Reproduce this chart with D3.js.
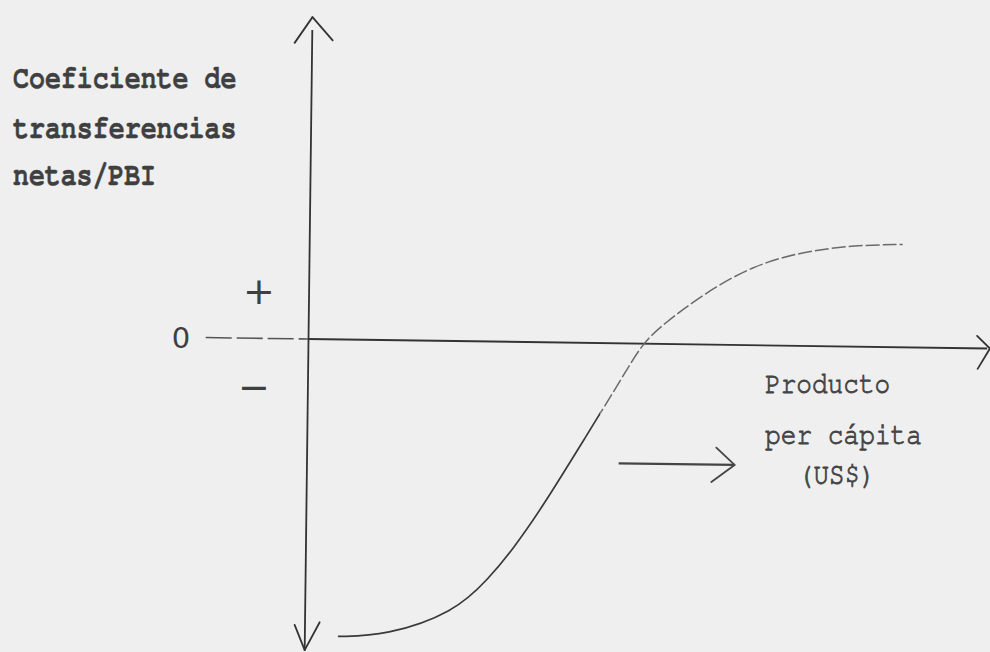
<!DOCTYPE html>
<html><head><meta charset="utf-8">
<script src="https://cdn.jsdelivr.net/npm/d3@7"></script>
<style>html,body{margin:0;padding:0;background:#efefef;overflow:hidden}</style>
</head><body>
<svg id="chart" width="990" height="652"></svg>
<script>
// ---- data (conceptual curve) ----
const curveX = [5, 12, 22, 27, 30.5, 34.7, 41, 46, 49, 52, 58, 65, 72.5, 80, 87];
const curveY = [-0.99, -0.985, -0.905, -0.79, -0.69, -0.55, -0.31, -0.12, 0, 0.065, 0.17, 0.265, 0.315, 0.338, 0.343];
const yLabelLines = ["Coeficiente de", "transferencias", "netas/PBI"];
const xLabelLines = ["Producto", "per cápita", "(US$)"];
const signLabels = ["+", "0", "−"];
const xDomain = [0, 100];
const yDomain = [-1, 1];
const arrowX = [45.8, 62.8];   // small "increasing income" arrow, data units
const arrowY = -0.40;

const W = 990, H = 652;
const svg = d3.select("#chart");
svg.append("rect").attr("width", W).attr("height", H).attr("fill", "#efefef");

const x = d3.scaleLinear().domain(xDomain).range([308, 990]);
const y = d3.scaleLinear().domain(yDomain).range([639, 39]);

const ink = "#333";
const typeFont = "'Nimbus Mono PS', 'FreeMono', 'TeX Gyre Cursor', 'Liberation Mono', monospace";
const g = svg.append("g").attr("transform", `rotate(0.8,${x(0)},${y(0)})`);

function head(tx, ty, arms, color, w) {
  arms.forEach(([dx, dy]) => {
    g.append("line").attr("x1", tx).attr("y1", ty).attr("x2", tx + dx).attr("y2", ty + dy)
      .attr("stroke", color).attr("stroke-width", w).attr("stroke-linecap", "round");
  });
}

// horizontal axis
g.append("line").attr("x1", x(-15)).attr("x2", x(0)).attr("y1", y(0)).attr("y2", y(0))
  .attr("stroke", "#555").attr("stroke-width", 1.6).attr("stroke-dasharray", "26,5");
g.append("line").attr("x1", x(0)).attr("x2", x(99.6)).attr("y1", y(0)).attr("y2", y(0))
  .attr("stroke", ink).attr("stroke-width", 1.9);
head(x(100), y(0), [[-13, -12.5], [-12, 20.5]], ink, 1.8);

// vertical axis
g.append("line").attr("x1", x(0)).attr("x2", x(0.15)).attr("y1", y(1.03)).attr("y2", y(-1.035))
  .attr("stroke", ink).attr("stroke-width", 1.8);
head(x(0), y(1.073), [[-17.5, 26], [20.5, 23]], ink, 1.8);
head(x(0.15), y(-1.037), [[-10.4, -25], [14.6, -28]], ink, 1.8);

// curve
const pts = curveX.map((v, i) => [x(v), y(curveY[i])]);
const line = d3.line().curve(d3.curveBasis);
const splitPx = x(43);
const defs = svg.append("defs");
defs.append("clipPath").attr("id", "lo").append("rect").attr("x", 0).attr("y", 0).attr("width", splitPx).attr("height", H);
defs.append("clipPath").attr("id", "hi").append("rect").attr("x", splitPx).attr("y", 0).attr("width", W).attr("height", H);
g.append("path").attr("d", line(pts)).attr("fill", "none").attr("stroke", "#3a3a3a")
  .attr("stroke-width", 1.7).attr("clip-path", "url(#lo)");
g.append("path").attr("d", line(pts)).attr("fill", "none").attr("stroke", "#6a6a6a")
  .attr("stroke-width", 1.5).attr("stroke-dasharray", "14,3").attr("clip-path", "url(#hi)");

// small arrow
g.append("line").attr("x1", x(arrowX[0])).attr("x2", x(arrowX[1])).attr("y1", y(arrowY)).attr("y2", y(arrowY))
  .attr("stroke", "#444").attr("stroke-width", 2.2);
head(x(arrowX[1]), y(arrowY), [[-18.5, -17], [-23, 17.4]], "#444", 1.8);

// labels
const leftBaselines = [88, 138, 185];
yLabelLines.forEach((t, i) => {
  svg.append("text").attr("x", 13).attr("y", leftBaselines[i]).text(t)
    .attr("font-family", typeFont).attr("font-weight", "bold")
    .attr("font-size", 33).attr("fill", "#3f3f3f")
    .attr("stroke", "#3f3f3f").attr("stroke-width", 0.5)
    .attr("textLength", t.length * 16.1 - 2).attr("lengthAdjust", "spacingAndGlyphs");
});
const rightPos = [[765, 393], [765, 444], [798, 484]];
xLabelLines.forEach((t, i) => {
  svg.append("text").attr("x", rightPos[i][0]).attr("y", rightPos[i][1]).text(t)
    .attr("font-family", typeFont)
    .attr("font-size", 30).attr("fill", "#444")
    .attr("stroke", "#444").attr("stroke-width", 0.9)
    .attr("textLength", t.length * 15.9 - 2).attr("lengthAdjust", "spacingAndGlyphs");
});
const signPos = [[259, 291, 38], [181, 338, 29], [254, 387, 38]];
signLabels.forEach((t, i) => {
  svg.append("text").attr("x", signPos[i][0]).attr("y", signPos[i][1]).text(t)
    .attr("text-anchor", "middle").attr("dominant-baseline", "central")
    .attr("font-family", "'DejaVu Sans', sans-serif").attr("font-size", signPos[i][2])
    .attr("fill", "#3f3f3f");
});
</script>
</body></html>
